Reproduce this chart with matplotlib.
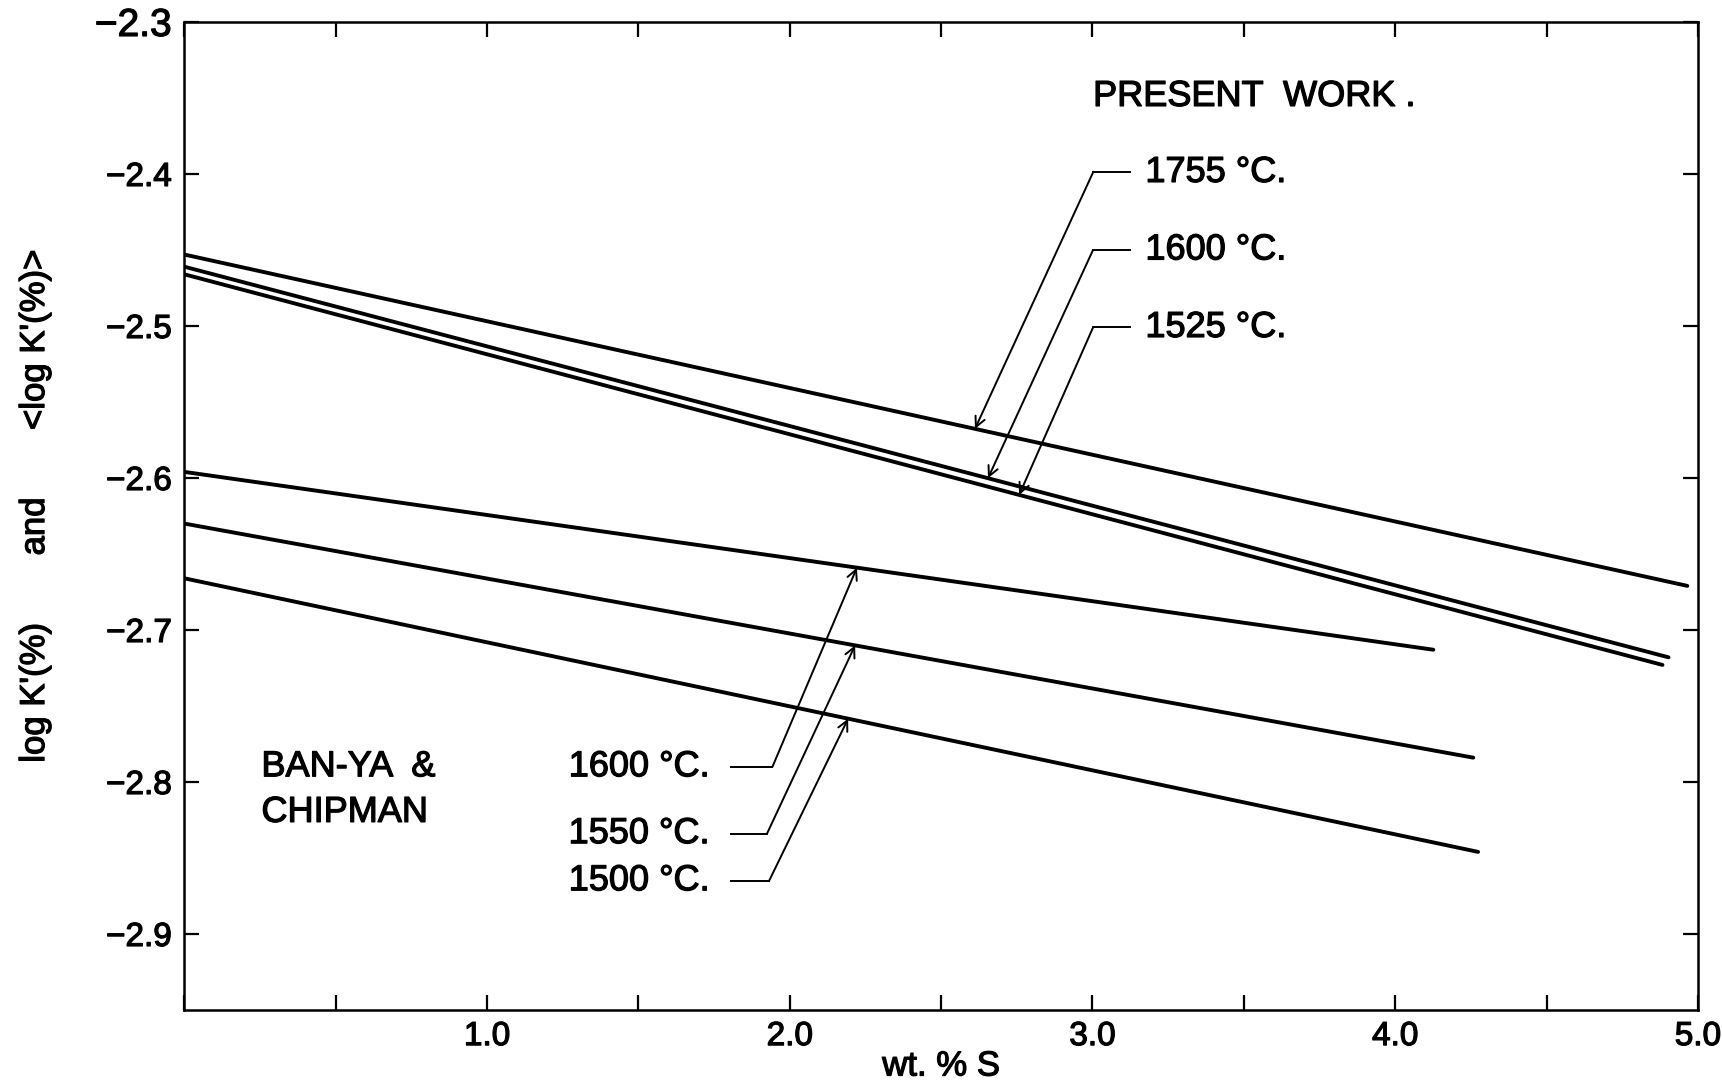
import numpy as np
import matplotlib
matplotlib.use('Agg')
import matplotlib.pyplot as plt
import matplotlib.patheffects as pe

plt.rcParams['font.family'] = ['Liberation Sans', 'DejaVu Sans']

# present work, straight lines given by their end points (wt.% S, log K')
pw_temps = ['1755 °C.', '1600 °C.', '1525 °C.']
pw_x0 = [0.0, 0.0, 0.0]
pw_x1 = [4.965, 4.903, 4.883]
pw_y0 = [-2.453, -2.461, -2.466]
pw_y1 = [-2.671, -2.718, -2.723]

# Ban-ya & Chipman
bc_temps = ['1600 °C.', '1550 °C.', '1500 °C.']
bc_x0 = [0.0, 0.0, 0.0]
bc_x1 = [4.126, 4.258, 4.274]
bc_y0 = [-2.596, -2.630, -2.666]
bc_y1 = [-2.713, -2.784, -2.846]

x_ticks = [0.0, 0.5, 1.0, 1.5, 2.0, 2.5, 3.0, 3.5, 4.0, 4.5, 5.0]
x_ticklabels = ['', '', '1.0', '', '2.0', '', '3.0', '', '4.0', '', '5.0']
y_ticks = [-2.9, -2.8, -2.7, -2.6, -2.5, -2.4, -2.3]
y_ticklabels = ['\u22122.9', '\u22122.8', '\u22122.7', '\u22122.6', '\u22122.5', '\u22122.4', '\u22122.3']

# label placement (leader corner / arrow tip x positions)
pw_label_y = [-2.399, -2.450, -2.501]
pw_tip_x = [2.612, 2.655, 2.758]
bc_label_y = [-2.790, -2.834, -2.865]
bc_corner_x = [1.943, 1.925, 1.932]
bc_tip_x = [2.222, 2.216, 2.193]

fig = plt.figure(figsize=(17.22, 10.81), dpi=100)
ax = fig.add_axes([0.107, 0.0657, 0.879, 0.914])

lw = 2.8
for i in range(3):
    ax.plot([pw_x0[i], pw_x1[i]], [pw_y0[i], pw_y1[i]], color='k', lw=lw, solid_capstyle='round')
    ax.plot([bc_x0[i], bc_x1[i]], [bc_y0[i], bc_y1[i]], color='k', lw=lw, solid_capstyle='round')

arrow = dict(arrowstyle='->', lw=1.4, color='k', shrinkA=0, shrinkB=0, mutation_scale=18)
fs = 26
bold = [pe.withStroke(linewidth=0.9, foreground='k')]

# present work labels
for i in range(3):
    ty = np.interp(pw_tip_x[i], [pw_x0[i], pw_x1[i]], [pw_y0[i], pw_y1[i]])
    ax.plot([3.002, 3.125], [pw_label_y[i], pw_label_y[i]], color='k', lw=1.4)
    ax.annotate('', xy=(pw_tip_x[i], ty), xytext=(3.002, pw_label_y[i]), arrowprops=arrow)
    ax.text(3.175, pw_label_y[i], pw_temps[i], fontsize=fs, ha='left', va='center', path_effects=bold)

# Ban-ya & Chipman labels
for i in range(3):
    ty = np.interp(bc_tip_x[i], [bc_x0[i], bc_x1[i]], [bc_y0[i], bc_y1[i]])
    ax.plot([1.806, bc_corner_x[i]], [bc_label_y[i], bc_label_y[i]], color='k', lw=1.4)
    ax.annotate('', xy=(bc_tip_x[i], ty), xytext=(bc_corner_x[i], bc_label_y[i]), arrowprops=arrow)
    ax.text(1.735, bc_label_y[i], bc_temps[i], fontsize=fs, ha='right', va='center', path_effects=bold)

ax.text(3.535, -2.349, 'PRESENT  WORK .', fontsize=fs, ha='center', va='center', path_effects=bold)
ax.text(0.255, -2.790, 'BAN-YA  &', fontsize=fs, ha='left', va='center', path_effects=bold)
ax.text(0.255, -2.820, 'CHIPMAN', fontsize=fs, ha='left', va='center', path_effects=bold)

ax.set_xlim(0, 5.0)
ax.set_ylim(-2.95, -2.3)
ax.set_xticks(x_ticks)
ax.set_xticklabels(x_ticklabels)
ax.set_yticks(y_ticks)
ax.set_yticklabels(y_ticklabels)
ax.tick_params(direction='in', length=11, width=1.6, top=True, right=True, labelsize=24)
ax.tick_params(axis='x', pad=8)
ax.tick_params(axis='y', pad=9)
for t in ax.get_xticklabels() + ax.get_yticklabels():
    t.set_path_effects(bold)
ax.get_yticklabels()[-1].set_fontsize(28)
for s in ax.spines.values():
    s.set_linewidth(1.8)

ax.set_xlabel('wt. % S', fontsize=25, path_effects=bold)
ax.xaxis.set_label_coords(0.5, -0.040)
ax.set_ylabel("log K'(%)       and       <log K'(%)>", fontsize=25, path_effects=bold)
ax.yaxis.set_label_coords(-0.088, 0.51)

fig.savefig('out.png', dpi=100)
